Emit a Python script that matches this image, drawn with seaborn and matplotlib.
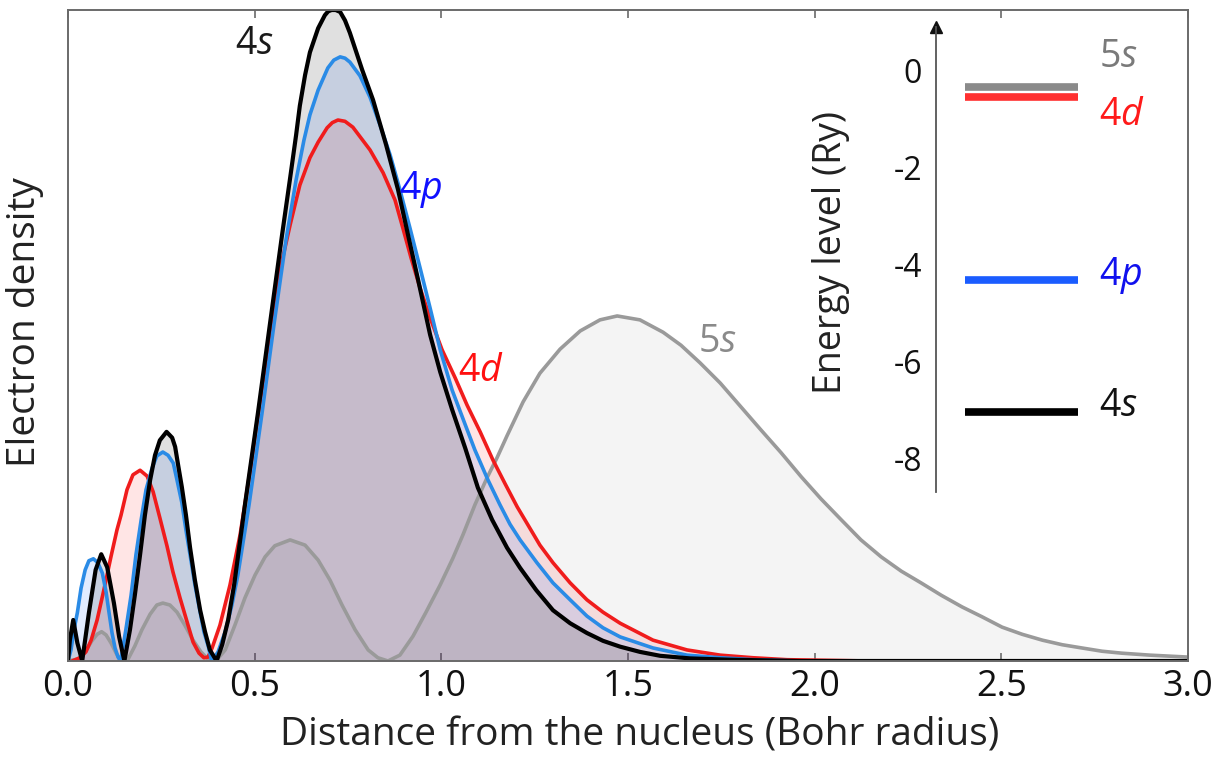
import numpy as np
import matplotlib
matplotlib.use("Agg")
import matplotlib.pyplot as plt
import seaborn as sns

# Radial electron density of the 4s, 4p, 4d and 5s orbitals (arbitrary units)
x_4s = [0.000, 0.005, 0.014, 0.025, 0.038, 0.056, 0.074, 0.089, 0.105, 0.123, 0.137, 0.151,
        0.166, 0.179, 0.193, 0.206, 0.220, 0.233, 0.246, 0.264, 0.279, 0.287, 0.295, 0.305,
        0.316, 0.327, 0.340, 0.354, 0.367, 0.380, 0.398, 0.413, 0.429, 0.445, 0.474, 0.509,
        0.541, 0.573, 0.595, 0.611, 0.621, 0.635, 0.648, 0.670, 0.688, 0.697, 0.706, 0.717,
        0.729, 0.742, 0.755, 0.788, 0.817, 0.852, 0.884, 0.911, 0.938, 0.970, 0.997, 1.029,
        1.064, 1.098, 1.136, 1.176, 1.211, 1.254, 1.299, 1.345, 1.390, 1.433, 1.479, 1.532,
        1.586, 1.666, 1.773, 1.961, 3.000]
y_4s = [0.000, 0.032, 0.063, 0.028, 0.000, 0.074, 0.140, 0.164, 0.144, 0.089, 0.037, 0.000,
        0.048, 0.101, 0.163, 0.224, 0.278, 0.316, 0.339, 0.352, 0.343, 0.329, 0.301, 0.267,
        0.224, 0.174, 0.124, 0.078, 0.045, 0.017, 0.000, 0.025, 0.063, 0.117, 0.240, 0.382,
        0.518, 0.653, 0.742, 0.808, 0.853, 0.900, 0.935, 0.972, 0.992, 0.998, 1.000, 1.000,
        0.997, 0.984, 0.965, 0.908, 0.862, 0.793, 0.724, 0.654, 0.585, 0.501, 0.444, 0.386,
        0.327, 0.266, 0.217, 0.174, 0.143, 0.109, 0.078, 0.058, 0.043, 0.031, 0.022, 0.014,
        0.008, 0.004, 0.002, 0.000, 0.000]

x_4p = [0.000, 0.008, 0.016, 0.025, 0.035, 0.046, 0.056, 0.068, 0.080, 0.092, 0.102, 0.110,
        0.118, 0.126, 0.134, 0.141, 0.155, 0.169, 0.182, 0.196, 0.209, 0.225, 0.238, 0.254,
        0.268, 0.282, 0.292, 0.305, 0.316, 0.327, 0.340, 0.354, 0.364, 0.376, 0.385, 0.402,
        0.421, 0.439, 0.455, 0.485, 0.520, 0.552, 0.584, 0.611, 0.632, 0.648, 0.670, 0.696,
        0.712, 0.729, 0.742, 0.755, 0.782, 0.809, 0.836, 0.863, 0.889, 0.916, 0.943, 0.970,
        0.997, 1.029, 1.064, 1.090, 1.125, 1.157, 1.184, 1.211, 1.256, 1.299, 1.345, 1.390,
        1.433, 1.479, 1.567, 1.658, 1.747, 1.835, 1.961]
y_4p = [0.000, 0.017, 0.048, 0.074, 0.112, 0.140, 0.154, 0.157, 0.151, 0.135, 0.106, 0.074,
        0.043, 0.020, 0.006, 0.000, 0.048, 0.101, 0.163, 0.217, 0.263, 0.296, 0.315, 0.321,
        0.316, 0.304, 0.278, 0.243, 0.201, 0.163, 0.117, 0.075, 0.045, 0.022, 0.000, 0.014,
        0.045, 0.086, 0.132, 0.240, 0.382, 0.518, 0.647, 0.739, 0.800, 0.839, 0.877, 0.911,
        0.923, 0.928, 0.926, 0.920, 0.899, 0.866, 0.823, 0.777, 0.724, 0.665, 0.604, 0.542,
        0.478, 0.416, 0.363, 0.324, 0.278, 0.240, 0.210, 0.186, 0.151, 0.120, 0.094, 0.069,
        0.051, 0.037, 0.020, 0.009, 0.005, 0.002, 0.000]

x_4d = [0.011, 0.032, 0.048, 0.062, 0.078, 0.096, 0.115, 0.131, 0.142, 0.158, 0.174, 0.193,
        0.212, 0.228, 0.246, 0.265, 0.281, 0.300, 0.319, 0.335, 0.351, 0.364, 0.375, 0.386,
        0.407, 0.434, 0.461, 0.488, 0.509, 0.528, 0.546, 0.568, 0.595, 0.621, 0.648, 0.670,
        0.694, 0.708, 0.723, 0.742, 0.763, 0.809, 0.844, 0.876, 0.897, 0.919, 0.943, 0.970,
        1.002, 1.037, 1.069, 1.104, 1.138, 1.171, 1.203, 1.232, 1.264, 1.299, 1.345, 1.390,
        1.433, 1.479, 1.567, 1.658, 1.747, 1.835, 1.926, 2.148, 2.317]
y_4d = [0.000, 0.005, 0.014, 0.032, 0.063, 0.109, 0.160, 0.201, 0.224, 0.263, 0.286, 0.293,
        0.284, 0.260, 0.220, 0.177, 0.137, 0.097, 0.060, 0.029, 0.012, 0.005, 0.006, 0.020,
        0.055, 0.117, 0.194, 0.293, 0.378, 0.450, 0.524, 0.601, 0.670, 0.731, 0.773, 0.797,
        0.819, 0.827, 0.831, 0.829, 0.820, 0.785, 0.750, 0.708, 0.665, 0.619, 0.573, 0.527,
        0.478, 0.435, 0.393, 0.352, 0.309, 0.272, 0.237, 0.209, 0.178, 0.151, 0.120, 0.094,
        0.075, 0.058, 0.032, 0.017, 0.009, 0.005, 0.002, 0.000, 0.000]

x_5s = [0.000, 0.027, 0.046, 0.064, 0.078, 0.090, 0.102, 0.115, 0.129, 0.142, 0.161, 0.179,
        0.198, 0.220, 0.238, 0.254, 0.273, 0.292, 0.313, 0.335, 0.356, 0.375, 0.396, 0.421,
        0.447, 0.474, 0.501, 0.528, 0.554, 0.595, 0.635, 0.670, 0.702, 0.734, 0.769, 0.804,
        0.830, 0.857, 0.889, 0.924, 0.959, 0.997, 1.031, 1.058, 1.090, 1.122, 1.149, 1.176,
        1.219, 1.264, 1.318, 1.372, 1.425, 1.471, 1.532, 1.594, 1.642, 1.693, 1.747, 1.800,
        1.856, 1.910, 1.964, 2.017, 2.071, 2.124, 2.178, 2.232, 2.285, 2.339, 2.395, 2.448,
        2.502, 2.556, 2.610, 2.663, 2.716, 2.770, 2.823, 2.898, 3.000]
y_5s = [0.000, 0.003, 0.014, 0.031, 0.041, 0.045, 0.040, 0.028, 0.012, 0.000, 0.003, 0.023,
        0.048, 0.072, 0.086, 0.089, 0.086, 0.075, 0.055, 0.032, 0.014, 0.003, 0.000, 0.017,
        0.055, 0.097, 0.132, 0.160, 0.177, 0.186, 0.178, 0.155, 0.124, 0.086, 0.048, 0.017,
        0.005, 0.000, 0.009, 0.038, 0.075, 0.117, 0.158, 0.194, 0.240, 0.281, 0.312, 0.346,
        0.398, 0.442, 0.479, 0.507, 0.524, 0.530, 0.524, 0.505, 0.485, 0.458, 0.427, 0.392,
        0.355, 0.320, 0.283, 0.249, 0.217, 0.186, 0.160, 0.138, 0.120, 0.101, 0.083, 0.068,
        0.052, 0.041, 0.032, 0.025, 0.020, 0.015, 0.012, 0.009, 0.006]

# Orbital energies (Ry)
levels = ["5s", "4d", "4p", "4s"]
energies = [-0.35, -0.56, -4.33, -7.04]

x_ticks = [0.0, 0.5, 1.0, 1.5, 2.0, 2.5, 3.0]
e_ticks = [0, -2, -4, -6, -8]

sns.set_theme(style="white")
FONT = "Open Sans"
plt.rcParams["font.family"] = [FONT, "DejaVu Sans"]
plt.rcParams["mathtext.fontset"] = "custom"
plt.rcParams["mathtext.rm"] = FONT
plt.rcParams["mathtext.it"] = FONT + ":italic"

fig = plt.figure(figsize=(12.12, 7.65), dpi=100)
ax = fig.add_axes([68 / 1212, 1 - 661 / 765, 1120 / 1212, 651 / 765])

series = [
    (x_5s, y_5s, "#9a9a9a", "#9a9a9a", 0.10, 2.6),
    (x_4d, y_4d, "#f01c1c", "#ff0000", 0.10, 2.6),
    (x_4p, y_4p, "#2a8be6", "#1f6fff", 0.13, 2.6),
    (x_4s, y_4s, "#000000", "#000000", 0.12, 3.0),
]
for xs, ys, lc, fc, alpha, lw in series:
    ax.fill_between(xs, 0, ys, color=fc, alpha=alpha, linewidth=0)
for xs, ys, lc, fc, alpha, lw in series:
    sns.lineplot(x=xs, y=ys, ax=ax, color=lc, linewidth=lw, sort=False,
                 estimator=None)

ax.set_xlim(0, 3)
ax.set_ylim(0, 1)
ax.set_xticks(x_ticks)
ax.set_xticklabels([f"{t:.1f}" for t in x_ticks])
ax.set_yticks([])
for sp in ax.spines.values():
    sp.set_color("#6a6a6a")
    sp.set_linewidth(1.4)
ax.tick_params(axis="x", direction="in", length=6, width=1.2, color="#6a6a6a",
               top=True, bottom=True, labelsize=26, pad=6, labelcolor="#111111")
ax.set_xlabel("Distance from the nucleus (Bohr radius)", fontsize=28, color="#222222")
ax.xaxis.set_label_coords(0.51, -0.085)
ax.set_ylabel("Electron density", fontsize=28, color="#222222")
ax.yaxis.set_label_coords(-0.021, 0.52)

ax.text(0.50, 0.948, r"4$\mathit{s}$", fontsize=27, color="#1a1a1a", ha="center", va="center")
ax.text(0.945, 0.725, r"4$\mathit{p}$", fontsize=27, color="#1010ff", ha="center", va="center")
ax.text(1.105, 0.445, r"4$\mathit{d}$", fontsize=27, color="#ff1010", ha="center", va="center")
ax.text(1.74, 0.49, r"5$\mathit{s}$", fontsize=27, color="#8a8a8a", ha="center", va="center")

# Energy level diagram
ax2 = fig.add_axes([936 / 1212, 1 - 492 / 765, 214 / 1212, 465 / 765])
ax2.patch.set_alpha(0)
ax2.set_xlim(0, 1)
ax2.set_ylim(-8.70, 0.89)
for side in ["top", "right", "bottom"]:
    ax2.spines[side].set_visible(False)
ax2.spines["left"].set_color("#555555")
ax2.spines["left"].set_linewidth(1.3)
ax2.set_xticks([])
ax2.set_yticks(e_ticks)
ax2.set_yticklabels([str(t) for t in e_ticks])
ax2.tick_params(axis="y", direction="inout", length=12, width=1.1, color="#555555",
                labelsize=23, pad=4, labelcolor="#111111")
ax2.plot([0], [1], marker="^", markersize=8, color="#111111", transform=ax2.transAxes,
         clip_on=False)
ax2.set_ylabel("Energy level (Ry)", fontsize=27, color="#222222")
ax2.yaxis.set_label_coords(-0.40, 0.515)

level_colors = ["#8a8a8a", "#ff3030", "#1a5cff", "#000000"]
text_colors = ["#7a7a7a", "#ff1a1a", "#1010ee", "#111111"]
ax2.hlines(energies, 0.136, 0.664, colors=level_colors, linewidth=5.5)
label_offsets = [0.62, -0.37, 0.10, 0.11]
for name, e, tc, off in zip(levels, energies, text_colors, label_offsets):
    ax2.text(0.76, e + off, f"{name[0]}$\\mathit{{{name[1]}}}$", fontsize=27, color=tc,
             ha="left", va="center")

fig.savefig("out.png", dpi=100)
